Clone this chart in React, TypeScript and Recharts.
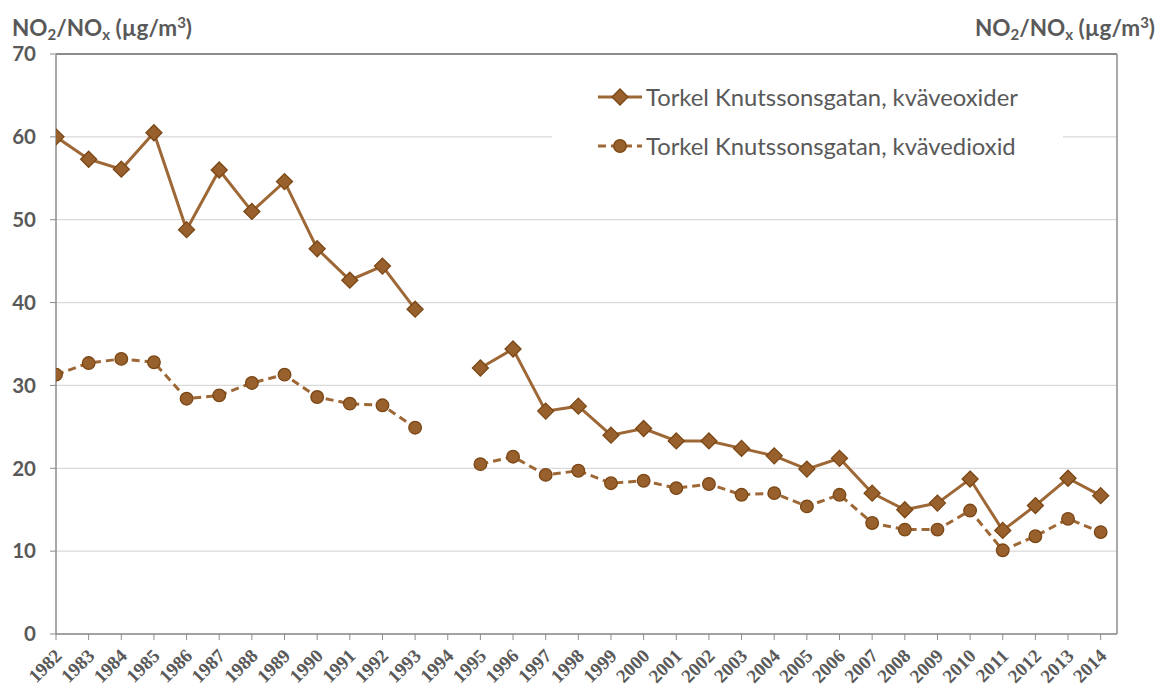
import React from 'react';
import { LineChart, Line, XAxis, YAxis, CartesianGrid, Legend, ReferenceLine } from 'recharts';

const years = [1982, 1983, 1984, 1985, 1986, 1987, 1988, 1989, 1990, 1991, 1992, 1993, 1994, 1995, 1996, 1997, 1998, 1999, 2000, 2001, 2002, 2003, 2004, 2005, 2006, 2007, 2008, 2009, 2010, 2011, 2012, 2013, 2014];
const noxValues = [60.0, 57.3, 56.1, 60.5, 48.8, 56.0, 51.0, 54.6, 46.5, 42.7, 44.4, 39.2, null, 32.1, 34.4, 26.9, 27.5, 24.0, 24.8, 23.3, 23.3, 22.4, 21.5, 19.9, 21.2, 17.0, 15.0, 15.8, 18.7, 12.5, 15.5, 18.8, 16.7];
const no2Values = [31.3, 32.7, 33.2, 32.8, 28.4, 28.8, 30.3, 31.3, 28.6, 27.8, 27.6, 24.9, null, 20.5, 21.4, 19.2, 19.7, 18.2, 18.5, 17.6, 18.1, 16.8, 17.0, 15.4, 16.8, 13.4, 12.6, 12.6, 14.9, 10.1, 11.8, 13.9, 12.3];
const yTicks = [0, 10, 20, 30, 40, 50, 60, 70];
const seriesNames = ['Torkel Knutssonsgatan, kväveoxider', 'Torkel Knutssonsgatan, kvävedioxid'];

const data = years.map((y, i) => ({ year: y, nox: noxValues[i], no2: no2Values[i] }));

const LINE = '#9E6836';
const FILL = '#97602C';
const EDGE = '#7B4715';
const AXIS = '#8C8C8C';
const TXT = '#595959';

const Diamond = (props: any) => {
  const { cx, cy, index } = props;
  if (cx == null || cy == null) return <g key={`d${index}`} />;
  const r = 8;
  return (
    <path key={`d${index}`} d={`M${cx},${cy - r}L${cx + r},${cy}L${cx},${cy + r}L${cx - r},${cy}Z`} fill={FILL} stroke={EDGE} strokeWidth={1.3} />
  );
};

const Dot = (props: any) => {
  const { cx, cy, index } = props;
  if (cx == null || cy == null) return <g key={`c${index}`} />;
  return <circle key={`c${index}`} cx={cx} cy={cy} r={6.3} fill={FILL} stroke={EDGE} strokeWidth={1.3} />;
};

const XTick = (props: any) => {
  const { x, y, payload } = props;
  const ex = x + 7;
  const ey = y + 17;
  return (
    <text x={ex} y={ey} transform={`rotate(-45 ${ex} ${ey})`} textAnchor="end" fill={TXT}
      style={{ fontFamily: '"Liberation Serif", serif', fontWeight: 'bold', fontSize: 19 }}>
      {payload.value}
    </text>
  );
};

const LegendContent = () => (
  <div style={{ width: 511, height: 128, background: '#fff', fontFamily: 'Lato, sans-serif', fontSize: 23.8, color: TXT }}>
    <div style={{ position: 'absolute', left: 46, top: 22, display: 'flex', alignItems: 'center' }}>
      <svg width={44} height={20} style={{ marginRight: 4 }}>
        <line x1={0} y1={10} x2={44} y2={10} stroke={LINE} strokeWidth={3} />
        <path d="M22,2L30,10L22,18L14,10Z" fill={FILL} stroke={EDGE} strokeWidth={1.3} />
      </svg>
      <span style={{ lineHeight: '30px' }}>{seriesNames[0]}</span>
    </div>
    <div style={{ position: 'absolute', left: 46, top: 71, display: 'flex', alignItems: 'center' }}>
      <svg width={44} height={20} style={{ marginRight: 4 }}>
        <line x1={0} y1={10} x2={44} y2={10} stroke={LINE} strokeWidth={3} strokeDasharray="8 5" />
        <circle cx={22} cy={10} r={6.3} fill={FILL} stroke={EDGE} strokeWidth={1.3} />
      </svg>
      <span style={{ lineHeight: '30px' }}>{seriesNames[1]}</span>
    </div>
  </div>
);

const titleStyle: React.CSSProperties = {
  position: 'absolute', top: 7, fontFamily: 'Lato, sans-serif', fontWeight: 'bold', fontSize: 22.5, color: TXT, lineHeight: '30px', whiteSpace: 'nowrap',
};

const Title = ({ left }: { left: number }) => (
  <div style={{ ...titleStyle, left }}>
    NO<sub style={{ fontSize: 15, verticalAlign: '-4px' }}>2</sub>/NO<sub style={{ fontSize: 15, verticalAlign: '-4px' }}>x</sub> (µg/m<sup style={{ fontSize: 15, verticalAlign: '8px' }}>3</sup>)
  </div>
);

export default function App() {
  return (
    <div style={{ position: 'absolute', left: 0, top: 0, width: 1163, height: 691, background: '#fff', overflow: 'hidden' }}>
      <LineChart width={1163} height={691} data={data} margin={{ top: 54, right: 0, bottom: 0, left: 0 }}>
        <CartesianGrid horizontal vertical={false} stroke="#D9D9D9" strokeWidth={1.3} yAxisId="left" />
        <XAxis dataKey="year" type="number" domain={[1982, 2014.5]} ticks={years} interval={0} height={57}
          tickSize={6} tickMargin={0} tick={<XTick />} axisLine={{ stroke: AXIS, strokeWidth: 1.5 }} tickLine={{ stroke: AXIS }} allowDataOverflow />
        <YAxis yAxisId="left" domain={[0, 70]} ticks={yTicks} width={56} tickSize={6} tickMargin={14}
          axisLine={{ stroke: AXIS, strokeWidth: 1.5 }} tickLine={{ stroke: AXIS }}
          tick={{ fill: TXT, fontFamily: 'Lato, sans-serif', fontWeight: 'bold', fontSize: 20.5 }} />
        <YAxis yAxisId="right" orientation="right" domain={[0, 70]} ticks={yTicks} width={46} tickSize={7} tickMargin={12}
          axisLine={{ stroke: AXIS, strokeWidth: 1.5 }} tickLine={{ stroke: AXIS }}
          tick={{ fill: TXT, fontFamily: 'Lato, sans-serif', fontWeight: 'bold', fontSize: 20.5, textAnchor: 'start' }} />
        <ReferenceLine yAxisId="left" y={70} stroke={AXIS} strokeWidth={1.8} />
        <Legend layout="horizontal" verticalAlign="middle" align="center" content={<LegendContent />}
          wrapperStyle={{ position: 'absolute', left: 552, top: 60, width: 511, height: 128 }} />
        <Line yAxisId="left" name={seriesNames[0]} dataKey="nox" stroke={LINE} strokeWidth={3} dot={Diamond} isAnimationActive={false} connectNulls={false} />
        <Line yAxisId="left" name={seriesNames[1]} dataKey="no2" stroke={LINE} strokeWidth={3} strokeDasharray="8 5" dot={Dot} isAnimationActive={false} connectNulls={false} />
      </LineChart>
      <Title left={12} />
      <Title left={975} />
    </div>
  );
}
